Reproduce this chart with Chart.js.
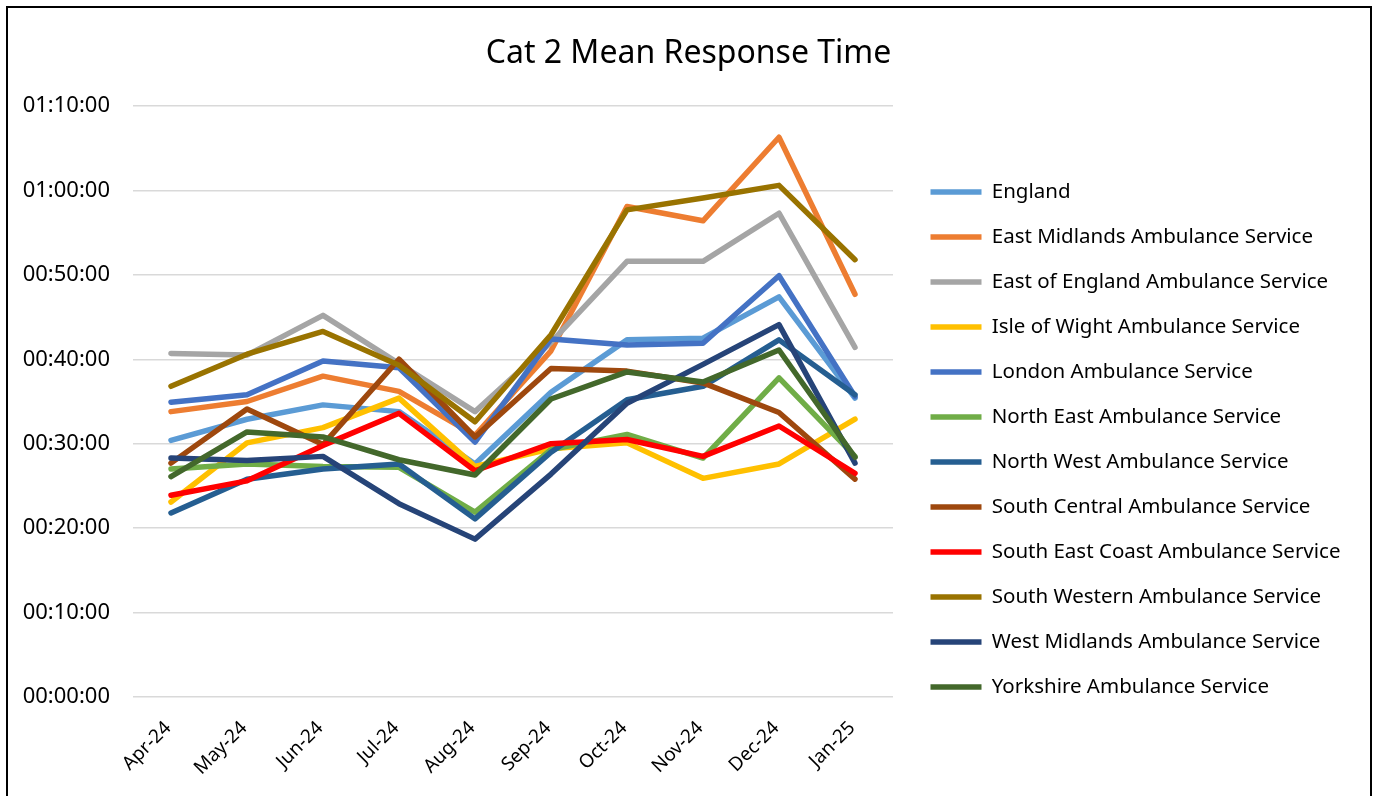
<!DOCTYPE html>
<html>
<head>
<meta charset="utf-8">
<title>Cat 2 Mean Response Time</title>
<script src="https://cdn.jsdelivr.net/npm/chart.js@4.4.1/dist/chart.umd.min.js"></script>
<style>
  html, body { margin: 0; padding: 0; background: #fff; overflow: hidden; }
  #chart { position: absolute; left: 0; top: 0; }
  #frame { position: absolute; left: 6px; top: 6px; width: 1362px; height: 900px; border: 2px solid #000; pointer-events: none; }
</style>
</head>
<body>
<canvas id="chart" width="1377" height="900"></canvas>
<div id="frame"></div>
<script>
// months on the x axis
const months = ["Apr-24", "May-24", "Jun-24", "Jul-24", "Aug-24", "Sep-24", "Oct-24", "Nov-24", "Dec-24", "Jan-25"];

// mean response time, in minutes
const england = [30.4, 32.9, 34.6, 33.8, 27.6, 36.1, 42.3, 42.5, 47.4, 35.4];
const eastMidlands = [33.8, 35.0, 38.0, 36.2, 31.0, 41.0, 58.1, 56.4, 66.3, 47.7];
const eastOfEngland = [40.7, 40.5, 45.2, 39.5, 33.8, 42.0, 51.6, 51.6, 57.3, 41.4];
const isleOfWight = [23.1, 30.1, 31.9, 35.4, 27.3, 29.4, 30.1, 25.9, 27.6, 32.9];
const london = [34.9, 35.8, 39.8, 39.0, 30.2, 42.4, 41.7, 41.9, 49.9, 35.6];
const northEast = [27.0, 27.6, 27.3, 27.2, 21.9, 29.3, 31.1, 28.3, 37.8, 28.5];
const northWest = [21.8, 25.8, 27.0, 27.6, 21.1, 29.0, 35.2, 36.8, 42.3, 35.8];
const southCentral = [27.7, 34.1, 29.9, 40.0, 30.8, 38.9, 38.6, 37.2, 33.7, 25.8];
const southEastCoast = [23.9, 25.6, 29.8, 33.6, 26.8, 30.0, 30.5, 28.5, 32.1, 26.5];
const southWestern = [36.8, 40.6, 43.3, 39.3, 32.6, 42.9, 57.7, 59.1, 60.6, 51.8];
const westMidlands = [28.3, 28.0, 28.5, 22.9, 18.7, 26.4, 34.8, 39.4, 44.1, 27.7];
const yorkshire = [26.1, 31.4, 30.8, 28.1, 26.3, 35.3, 38.5, 37.3, 41.1, 28.4];

// y axis: 00:00:00 to 01:10:00 every 10 minutes
const yMin = 0;
const yMax = 70;
const yStep = 10;

const series = [
  ["England", england, "#5B9BD5"],
  ["East Midlands Ambulance Service", eastMidlands, "#ED7D31"],
  ["East of England Ambulance Service", eastOfEngland, "#A5A5A5"],
  ["Isle of Wight Ambulance Service", isleOfWight, "#FFC000"],
  ["London Ambulance Service", london, "#4472C4"],
  ["North East Ambulance Service", northEast, "#70AD47"],
  ["North West Ambulance Service", northWest, "#255E91"],
  ["South Central Ambulance Service", southCentral, "#9E480E"],
  ["South East Coast Ambulance Service", southEastCoast, "#FF0000"],
  ["South Western Ambulance Service", southWestern, "#997300"],
  ["West Midlands Ambulance Service", westMidlands, "#264478"],
  ["Yorkshire Ambulance Service", yorkshire, "#43682B"]
];

function hms(minutes) {
  const s = Math.round(minutes * 60);
  const parts = [Math.floor(s / 3600), Math.floor((s % 3600) / 60), s % 60];
  return parts.map(v => String(v).padStart(2, "0")).join(":");
}

// nudges the legend a little to the right of the plot, like Excel does
const legendGap = {
  id: "legendGap",
  afterLayout(chart) {
    chart.legend.left += 13;
    chart.legend.right += 13;
  }
};

Chart.defaults.font.family = "'Noto Sans', sans-serif";
Chart.defaults.color = "#000";

new Chart(document.getElementById("chart"), {
  type: "line",
  data: {
    labels: months,
    datasets: series.map(([label, data, color], i) => ({
      label,
      data,
      borderColor: color,
      backgroundColor: color,
      borderWidth: 5.5,
      borderCapStyle: "round",
      borderJoinStyle: "round",
      pointRadius: 0,
      tension: 0,
      fill: false,
      order: series.length - i // later series drawn on top
    }))
  },
  options: {
    responsive: false,
    animation: false,
    layout: { padding: { left: 0, right: 0, top: 0, bottom: 21 } },
    plugins: {
      title: {
        display: true,
        text: "Cat 2 Mean Response Time",
        color: "#000",
        font: { size: 32, weight: "normal" },
        padding: { top: 35, bottom: 32.6 }
      },
      legend: {
        position: "right",
        maxWidth: 470,
        labels: {
          usePointStyle: true,
          pointStyle: "line",
          pointStyleWidth: 51,
          padding: 24.5,
          color: "#000",
          font: { size: 20.5 },
          sort: (a, b) => a.datasetIndex - b.datasetIndex
        }
      },
      tooltip: { enabled: false }
    },
    scales: {
      x: {
        offset: true,
        grid: { display: false },
        border: { display: false },
        ticks: {
          minRotation: 45,
          maxRotation: 45,
          padding: 12,
          labelOffset: -3,
          font: { size: 19 }
        },
        afterFit: scale => {
          scale.height = 182;
          scale.paddingRight = 484;
        }
      },
      y: {
        min: yMin,
        max: yMax,
        grid: { color: "#d9d9d9", lineWidth: 1.5, drawTicks: false },
        border: { display: false },
        ticks: {
          stepSize: yStep,
          padding: 23,
          font: { size: 22 },
          callback: v => hms(v)
        },
        afterFit: scale => { scale.width = 133; }
      }
    }
  },
  plugins: [legendGap]
});
</script>
</body>
</html>
